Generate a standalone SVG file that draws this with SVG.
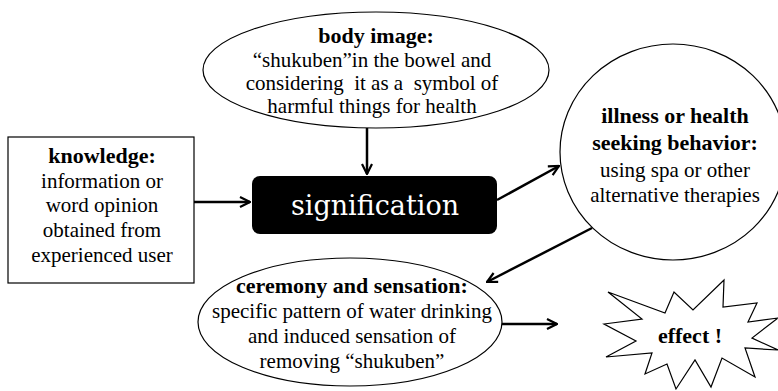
<svg xmlns="http://www.w3.org/2000/svg" width="778" height="391" viewBox="0 0 778 391">
<style>
.shape{fill:#fff;stroke:#000;stroke-width:1.2}
.t{font-size:21px;text-anchor:middle;fill:#000}
.b{font-weight:bold;font-size:22px}
.conn{stroke:#000;stroke-width:2.5;fill:none;marker-end:url(#ah)}
</style>
<defs>
<marker id="ah" viewBox="0 0 12 12" refX="11" refY="6" markerWidth="12" markerHeight="12" markerUnits="userSpaceOnUse" orient="auto">
<path d="M1,1 L11,6 L1,11" fill="none" stroke="#000" stroke-width="2.2"/>
</marker>
</defs>
<rect width="778" height="391" fill="#fff"/>
<g id="connectors">
<line class="conn" x1="194" y1="202" x2="250" y2="202"/>
<line class="conn" x1="367" y1="128" x2="367" y2="174"/>
<line class="conn" x1="497" y1="200" x2="559" y2="166"/>
<line class="conn" x1="592" y1="228" x2="487" y2="282"/>
<line class="conn" x1="502" y1="324" x2="557" y2="324"/>
</g>
<g font-family="Liberation Serif, serif">
<g id="body-image">
<ellipse class="shape" cx="376" cy="70" rx="173" ry="58"/>
<text class="t b" x="376" y="43">body image:</text>
<text class="t" x="372" y="67">“shukuben”in the bowel and</text>
<text class="t" x="372" y="90" xml:space="preserve">considering  it as a  symbol of</text>
<text class="t" x="372" y="113">harmful things for health</text>
</g>
<g id="knowledge">
<rect class="shape" x="8" y="137" width="186" height="146"/>
<text class="t b" x="102" y="163">knowledge:</text>
<text class="t" x="102" y="188">information or</text>
<text class="t" x="102" y="212">word opinion</text>
<text class="t" x="102" y="237">obtained from</text>
<text class="t" x="102" y="262">experienced user</text>
</g>
<g id="signification">
<rect x="252" y="176" width="245" height="58" rx="8" fill="#000"/>
<text x="375" y="215" font-family="DejaVu Serif, serif" font-size="27" fill="#fff" text-anchor="middle">signification</text>
</g>
<g id="illness">
<ellipse class="shape" cx="673" cy="152" rx="113" ry="108"/>
<text class="t b" x="675" y="123">illness or health</text>
<text class="t b" x="675" y="150">seeking behavior:</text>
<text class="t" x="675" y="177">using spa or other</text>
<text class="t" x="675" y="202">alternative therapies</text>
</g>
<g id="ceremony">
<ellipse class="shape" cx="350" cy="322" rx="152" ry="64"/>
<text class="t b" x="352" y="293">ceremony and sensation:</text>
<text class="t" x="352" y="318">specific pattern of water drinking</text>
<text class="t" x="352" y="343">and induced sensation of</text>
<text class="t" x="352" y="368">removing “shukuben”</text>
</g>
<g id="effect">
<polygon class="shape" points="608,292 665,313 674,292 693,310 724,280 723,307 757,303 748,322 778,318 752,338 778,350 745,348 755,377 722,358 711,387 695,360 676,389 667,364 645,374 652,353 606,357 636,341 604,324 642,319"/>
<text class="t b" x="690" y="343">effect !</text>
</g>
</g>
</svg>
